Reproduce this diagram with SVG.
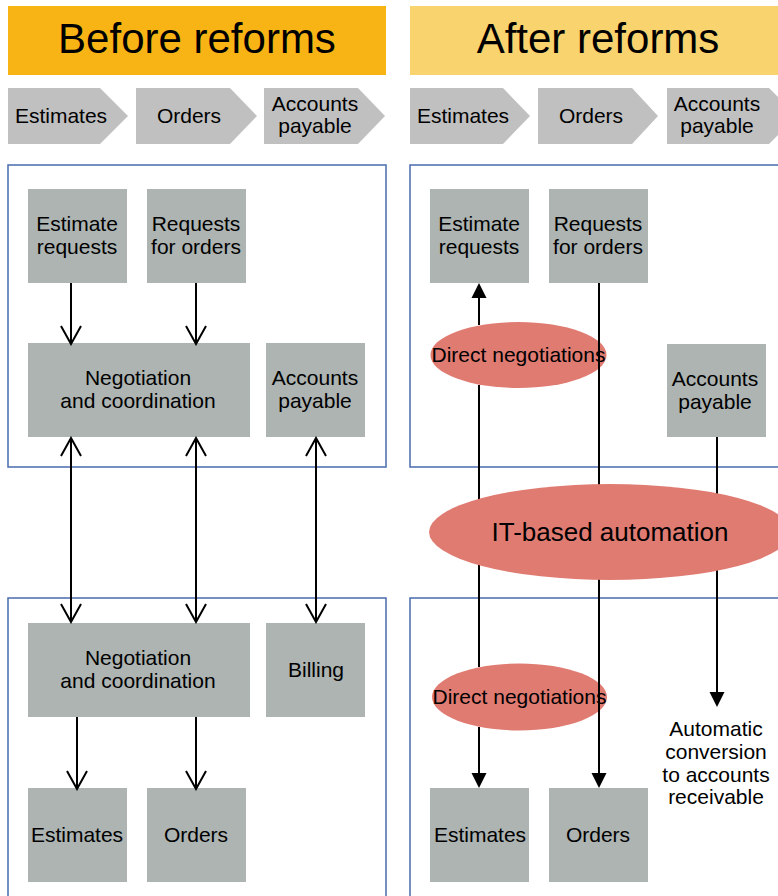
<svg xmlns="http://www.w3.org/2000/svg" width="778" height="896" viewBox="0 0 778 896">
  <style>
    text { font-family: "Liberation Sans", Arial, sans-serif; fill: #000; text-anchor: middle; }
    .hdr { font-size: 42px; }
    .lbl { font-size: 21px; }
    .big { font-size: 26px; }
    .chev { fill: #C0C0C0; }
    .node { fill: #ADB4B2; }
    .panel { fill: none; stroke: #4A6BAE; stroke-width: 1.5; }
    .oval { fill: #E07B72; }
    .open { fill: none; stroke: #000; stroke-width: 2; marker-end: url(#open); }
    .open2 { fill: none; stroke: #000; stroke-width: 2; marker-start: url(#open); marker-end: url(#open); }
    .line { fill: none; stroke: #000; stroke-width: 2; }
  </style>
  <defs>
    <marker id="open" viewBox="-22 -12 24 24" refX="0" refY="0" markerWidth="24" markerHeight="24" markerUnits="userSpaceOnUse" orient="auto-start-reverse">
      <path d="M-18,-10 L0,0 L-18,10" fill="none" stroke="#000" stroke-width="2"/>
    </marker>
    <marker id="solid" viewBox="-16 -8 16 16" refX="-12" refY="0" markerWidth="16" markerHeight="16" markerUnits="userSpaceOnUse" orient="auto-start-reverse">
      <path d="M-15,-7.5 L0,0 L-15,7.5 Z" fill="#000"/>
    </marker>
  </defs>

  <rect width="778" height="896" fill="#fff"/>

  <!-- headers -->
  <g id="hdr-before">
    <rect x="8" y="6" width="378" height="69" fill="#F8B415"/>
    <text class="hdr" x="197" y="53">Before reforms</text>
  </g>
  <g id="hdr-after">
    <rect x="410" y="6" width="380" height="69" fill="#F9D36E"/>
    <text class="hdr" x="598" y="53">After reforms</text>
  </g>

  <!-- process chevrons -->
  <g id="chev-l1">
    <polygon class="chev" points="8,88 100,88 128,116 100,144 8,144"/>
    <text class="lbl" x="61" y="123">Estimates</text>
  </g>
  <g id="chev-l2">
    <polygon class="chev" points="136,88 230,88 257,116 230,144 136,144"/>
    <text class="lbl" x="189" y="123">Orders</text>
  </g>
  <g id="chev-l3">
    <polygon class="chev" points="264,88 358,88 385,116 358,144 264,144"/>
    <text class="lbl" x="315" y="111">Accounts</text>
    <text class="lbl" x="315" y="133">payable</text>
  </g>
  <g id="chev-r1">
    <polygon class="chev" points="410,88 503,88 530,116 503,144 410,144"/>
    <text class="lbl" x="463" y="123">Estimates</text>
  </g>
  <g id="chev-r2">
    <polygon class="chev" points="538,88 632,88 658,116 632,144 538,144"/>
    <text class="lbl" x="591" y="123">Orders</text>
  </g>
  <g id="chev-r3">
    <polygon class="chev" points="667,88 769,88 797,116 769,144 667,144"/>
    <text class="lbl" x="717" y="111">Accounts</text>
    <text class="lbl" x="717" y="133">payable</text>
  </g>

  <!-- panels -->
  <g id="panels">
    <rect class="panel" x="8" y="165" width="378" height="302"/>
    <rect class="panel" x="8" y="598" width="378" height="310"/>
    <rect class="panel" x="410" y="165" width="380" height="302"/>
    <rect class="panel" x="410" y="598" width="380" height="310"/>
  </g>

  <!-- before: upper side -->
  <g id="b-estreq">
    <rect class="node" x="28" y="189" width="99" height="94"/>
    <text class="lbl" x="77" y="231">Estimate</text>
    <text class="lbl" x="77" y="254">requests</text>
  </g>
  <g id="b-reqord">
    <rect class="node" x="147" y="189" width="99" height="94"/>
    <text class="lbl" x="196" y="231">Requests</text>
    <text class="lbl" x="196" y="254">for orders</text>
  </g>
  <g id="b-neg1">
    <rect class="node" x="28" y="343" width="222" height="94"/>
    <text class="lbl" x="138" y="385">Negotiation</text>
    <text class="lbl" x="138" y="408">and coordination</text>
  </g>
  <g id="b-ap">
    <rect class="node" x="266" y="343" width="99" height="94"/>
    <text class="lbl" x="315" y="385">Accounts</text>
    <text class="lbl" x="315" y="408">payable</text>
  </g>

  <!-- before: lower side -->
  <g id="b-neg2">
    <rect class="node" x="28" y="623" width="222" height="94"/>
    <text class="lbl" x="138" y="665">Negotiation</text>
    <text class="lbl" x="138" y="688">and coordination</text>
  </g>
  <g id="b-billing">
    <rect class="node" x="266" y="623" width="99" height="94"/>
    <text class="lbl" x="316" y="677">Billing</text>
  </g>
  <g id="b-est">
    <rect class="node" x="28" y="788" width="99" height="94"/>
    <text class="lbl" x="77" y="842">Estimates</text>
  </g>
  <g id="b-ord">
    <rect class="node" x="147" y="788" width="99" height="94"/>
    <text class="lbl" x="196" y="842">Orders</text>
  </g>

  <!-- after: nodes -->
  <g id="a-estreq">
    <rect class="node" x="430" y="189" width="99" height="94"/>
    <text class="lbl" x="479" y="231">Estimate</text>
    <text class="lbl" x="479" y="254">requests</text>
  </g>
  <g id="a-reqord">
    <rect class="node" x="549" y="189" width="99" height="94"/>
    <text class="lbl" x="598" y="231">Requests</text>
    <text class="lbl" x="598" y="254">for orders</text>
  </g>
  <g id="a-ap">
    <rect class="node" x="667" y="344" width="99" height="93"/>
    <text class="lbl" x="715" y="386">Accounts</text>
    <text class="lbl" x="715" y="409">payable</text>
  </g>
  <g id="a-est">
    <rect class="node" x="430" y="788" width="99" height="94"/>
    <text class="lbl" x="480" y="842">Estimates</text>
  </g>
  <g id="a-ord">
    <rect class="node" x="549" y="788" width="99" height="94"/>
    <text class="lbl" x="598" y="842">Orders</text>
  </g>
  <g id="a-conv">
    <text class="lbl" x="716" y="736">Automatic</text>
    <text class="lbl" x="716" y="759">conversion</text>
    <text class="lbl" x="716" y="782">to accounts</text>
    <text class="lbl" x="716" y="804">receivable</text>
  </g>

  <!-- direct negotiation ovals -->
  <g id="a-direct1">
    <ellipse class="oval" cx="518.5" cy="355" rx="88" ry="33"/>
    <text class="lbl" x="518.5" y="362">Direct negotiations</text>
  </g>
  <g id="a-direct2">
    <ellipse class="oval" cx="519.5" cy="697" rx="87.5" ry="33.5"/>
    <text class="lbl" x="519.5" y="704">Direct negotiations</text>
  </g>

  <!-- connectors -->
  <g id="connectors">
    <!-- before -->
    <path class="open" d="M71,283 V344"/>
    <path class="open" d="M196,283 V344"/>
    <path class="open2" d="M71,438 V622"/>
    <path class="open2" d="M196,438 V622"/>
    <path class="open2" d="M316,438 V622"/>
    <path class="open" d="M77,717 V789"/>
    <path class="open" d="M196,717 V789"/>
    <!-- after: two-way link between estimate requests and estimates, broken by the ovals -->
    <path class="line" d="M479,295 V325" marker-start="url(#solid)"/>
    <path class="line" d="M479,385 V667"/>
    <path class="line" d="M479,727 V776" marker-end="url(#solid)"/>
    <!-- after: orders flow and payable conversion -->
    <path class="line" d="M599,283 V776" marker-end="url(#solid)"/>
    <path class="line" d="M717,437 V695" marker-end="url(#solid)"/>
  </g>

  <!-- automation oval across both sides -->
  <g id="a-it">
    <ellipse class="oval" cx="610" cy="532" rx="181" ry="48"/>
    <text class="big" x="610" y="541">IT-based automation</text>
  </g>
</svg>
